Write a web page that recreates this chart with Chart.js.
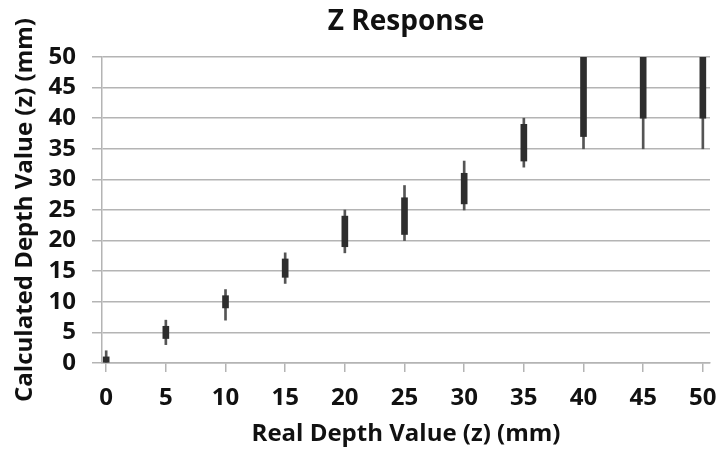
<!DOCTYPE html>
<html>
<head>
<meta charset="utf-8">
<script src="https://cdn.jsdelivr.net/npm/chart.js@4/dist/chart.umd.min.js"></script>
<style>
  html, body { margin: 0; padding: 0; background: #fff; }
  #wrap { width: 719px; height: 450px; }
</style>
</head>
<body>
<div id="wrap"><canvas id="chart"></canvas></div>
<script>
// Real depth (x) and the spread of calculated depth at each one
const realDepth = [0, 5, 10, 15, 20, 25, 30, 35, 40, 45, 50];
const lowValues = [0, 3, 7, 13, 18, 20, 25, 32, 35, 35, 35];
const boxLow    = [0, 4, 9, 14, 19, 21, 26, 33, 37, 40, 40];
const boxHigh   = [1, 6, 11, 17, 24, 27, 31, 39, 50, 50, 50];
const highValues = [2, 7, 12, 18, 25, 29, 33, 40, 50, 50, 50];
const xTicks = [0, 5, 10, 15, 20, 25, 30, 35, 40, 45, 50];
const yTicks = [0, 5, 10, 15, 20, 25, 30, 35, 40, 45, 50];

const FONT = '"Open Sans", Lato, sans-serif';
const gridColor = '#b4b4b4';

const ctx = document.getElementById('chart').getContext('2d');
new Chart(ctx, {
    type: 'bar',
    data: {
        datasets: [
            {
                label: 'box',
                data: realDepth.map((x, i) => ({ x: x, y: [boxLow[i], boxHigh[i]] })),
                backgroundColor: '#2e2e2e',
                barThickness: 6,
                grouped: false
            },
            {
                label: 'range',
                data: realDepth.map((x, i) => ({ x: x, y: [lowValues[i], highValues[i]] })),
                backgroundColor: '#555555',
                barThickness: 2,
                grouped: false
            }
        ]
    },
    options: {
        responsive: true,
        maintainAspectRatio: false,
        animation: false,
        layout: { padding: { left: 0, right: 9, top: 0, bottom: 0 } },
        plugins: {
            legend: { display: false },
            tooltip: { enabled: false },
            title: {
                display: true,
                text: 'Z Response',
                fullSize: false,
                color: '#111',
                font: { family: FONT, size: 28, weight: 'bold', lineHeight: 1.2 },
                padding: { top: 5, bottom: 18.4 }
            }
        },
        scales: {
            x: {
                type: 'linear',
                min: -0.35,
                max: 50.6,
                offset: false,
                afterBuildTicks: (scale) => { scale.ticks = xTicks.map(v => ({ value: v })); },
                afterFit: (scale) => {
                    scale.height = 87;
                    scale.paddingLeft = 0;
                    scale.paddingRight = 0;
                },
                grid: {
                    offset: false,
                    drawOnChartArea: false,
                    color: gridColor,
                    lineWidth: 1.5,
                    tickLength: 9
                },
                border: { color: gridColor, width: 1.5 },
                ticks: {
                    color: '#111',
                    padding: 12,
                    maxRotation: 0,
                    autoSkip: false,
                    font: { family: FONT, size: 24, weight: 'bold' }
                },
                title: {
                    display: true,
                    text: 'Real Depth Value (z) (mm)',
                    color: '#111',
                    font: { family: FONT, size: 24, weight: 'bold', lineHeight: 1.2 },
                    padding: { top: 0, bottom: 1 }
                }
            },
            y: {
                min: 0,
                max: 50,
                afterBuildTicks: (scale) => { scale.ticks = yTicks.map(v => ({ value: v })); },
                afterFit: (scale) => { scale.width = 102; },
                grid: {
                    color: gridColor,
                    lineWidth: 1.5,
                    tickLength: 10
                },
                border: { color: gridColor, width: 1.5 },
                ticks: {
                    color: '#111',
                    padding: 16,
                    autoSkip: false,
                    font: { family: FONT, size: 24, weight: 'bold' }
                },
                title: {
                    display: true,
                    text: 'Calculated Depth Value (z) (mm)',
                    color: '#111',
                    font: { family: FONT, size: 24, weight: 'bold', lineHeight: 1.2 },
                    padding: { top: 11, bottom: 0 }
                }
            }
        }
    }
});
</script>
</body>
</html>
